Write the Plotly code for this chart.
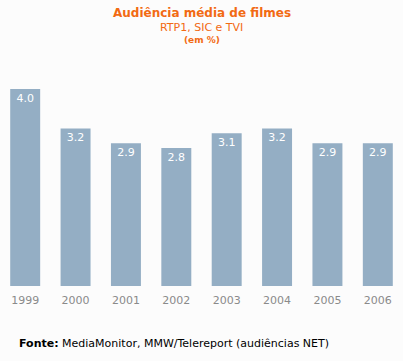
import plotly.graph_objects as go

years = ["1999", "2000", "2001", "2002", "2003", "2004", "2005", "2006"]
audiencia = [4.0, 3.2, 2.9, 2.8, 3.1, 3.2, 2.9, 2.9]
labels = ["4.0", "3.2", "2.9", "2.8", "3.1", "3.2", "2.9", "2.9"]

W, H = 403, 361
top, bottom = 70, 75
plot_h = H - top - bottom
ymax = plot_h / 49.25

fig = go.Figure(go.Bar(
    x=years, y=audiencia, text=labels,
    textposition="inside", insidetextanchor="end",
    textfont=dict(color="white", size=11, family="DejaVu Sans"),
    marker=dict(color="#94AEC4", line=dict(width=0)),
    cliponaxis=False, textangle=0,
))

orange = "#F26A13"
fig.update_layout(
    width=W, height=H,
    margin=dict(l=0, r=0, t=top, b=bottom),
    paper_bgcolor="#FCFCFC", plot_bgcolor="#FCFCFC",
    bargap=0.405,
    showlegend=False,
    xaxis=dict(showgrid=False, showline=False, zeroline=False, ticks="",
               tickfont=dict(color="#8A8A8A", size=11, family="DejaVu Sans"),
               ticklabelstandoff=6, fixedrange=True),
    yaxis=dict(range=[0, ymax], visible=False, fixedrange=True),
    annotations=[
        dict(text="<b>Audiência média de filmes</b>", x=0.5, y=13, xref="paper", yref="paper",
             showarrow=False, font=dict(color=orange, size=12, family="DejaVu Sans")),
        dict(text="RTP1, SIC e TVI", x=0.5, y=27, xref="paper", yref="paper",
             showarrow=False, font=dict(color=orange, size=11, family="DejaVu Sans")),
        dict(text="<b>(em %)</b>", x=0.5, y=40, xref="paper", yref="paper",
             showarrow=False, font=dict(color=orange, size=9, family="DejaVu Sans")),
        dict(text="<b>Fonte:</b> MediaMonitor, MMW/Telereport (audiências NET)", x=17, y=343,
             xref="paper", yref="paper", xanchor="left", showarrow=False,
             font=dict(color="#000000", size=11, family="DejaVu Sans")),
    ],
)

for a in fig.layout.annotations:
    px_y = a.y
    a.y = 1 - (px_y - top) / plot_h
    a.yanchor = "middle"
    if a.xanchor == "left":
        a.x = a.x / W

fig.write_html("out.html", config={"displayModeBar": False},
               post_script="document.body.style.margin='0';document.body.style.overflow='hidden';")
